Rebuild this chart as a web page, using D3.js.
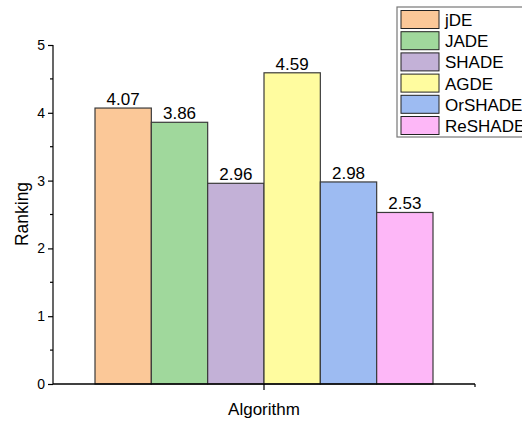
<!DOCTYPE html>
<html><head><meta charset="utf-8">
<script src="https://cdn.jsdelivr.net/npm/d3@7"></script>
<style>body{margin:0;background:#fff}svg{display:block}text{font-family:Arial,"Liberation Sans",sans-serif}</style>
</head><body>
<script>
const categories = ["jDE","JADE","SHADE","AGDE","OrSHADE","ReSHADE"];
const values = [4.07,3.86,2.96,4.59,2.98,2.53];
const colors = ["#FBC898","#A0D89C","#C3B1D7","#FFFC9F","#9DBBF2","#FDB7F7"];
const yTicks = [0,1,2,3,4,5];

const W=522,H=421;
const svg=d3.select("body").append("svg").attr("width",W).attr("height",H);
const x0=53,x1=475,y0=384,y1=45;
const y=d3.scaleLinear().domain([0,5]).range([y0,y1]);
const x=d3.scaleBand().domain(categories).range([95,433]).padding(0);

// bars
svg.append("g").selectAll("rect").data(values).join("rect")
 .attr("x",(d,i)=>x(categories[i])).attr("y",d=>y(d))
 .attr("width",x.bandwidth()).attr("height",d=>y0-y(d))
 .attr("fill",(d,i)=>colors[i]).attr("stroke","#3a3a3a").attr("stroke-width",1.2);

svg.append("g").selectAll("text").data(values).join("text")
 .attr("x",(d,i)=>x(categories[i])+x.bandwidth()/2).attr("y",d=>y(d)-3)
 .attr("text-anchor","middle").attr("font-size",17).attr("fill","#000")
 .text(d=>d.toFixed(2));

// y axis
const yAxis=d3.axisLeft(y).tickValues(yTicks).tickSize(5).tickFormat(d3.format("d"));
const gy=svg.append("g").attr("transform",`translate(${x0},0)`).call(yAxis);
gy.select(".domain").attr("d",`M0,${y1}V${y0}`).attr("stroke","#000").attr("stroke-width",1.2);
gy.selectAll(".tick line").attr("stroke","#000").attr("stroke-width",1.2);
gy.selectAll(".tick text").attr("font-size",14).attr("fill","#000").attr("x",-8).attr("font-family","Arial");
const minor=d3.range(0.5,5,1);
gy.selectAll(".minor").data(minor).join("line").attr("class","minor")
 .attr("x1",-3).attr("x2",0).attr("y1",d=>y(d)).attr("y2",d=>y(d)).attr("stroke","#000").attr("stroke-width",1.2);

// x axis
svg.append("line").attr("x1",x0).attr("x2",x1).attr("y1",y0).attr("y2",y0).attr("stroke","#000").attr("stroke-width",1.4);
svg.append("line").attr("x1",(x0+x1)/2).attr("x2",(x0+x1)/2).attr("y1",y0).attr("y2",y0+6).attr("stroke","#000").attr("stroke-width",1.2);
svg.append("line").attr("x1",x1).attr("x2",x1).attr("y1",y0).attr("y2",y0+3).attr("stroke","#000").attr("stroke-width",1.2);

svg.append("text").attr("x",(x0+x1)/2).attr("y",415).attr("text-anchor","middle").attr("font-size",17).text("Algorithm");
svg.append("text").attr("transform","translate(28,214) rotate(-90)").attr("text-anchor","middle").attr("font-size",17.5).text("Ranking");

// legend
const lg=svg.append("g");
lg.append("rect").attr("x",397).attr("y",7).attr("width",140).attr("height",130).attr("fill","#fff").attr("stroke","#777").attr("stroke-width",1.2);
const items=lg.selectAll("g.it").data(categories).join("g").attr("class","it")
 .attr("transform",(d,i)=>`translate(401,${10.5+i*21.2})`);
items.append("rect").attr("width",38).attr("height",18).attr("fill",(d,i)=>colors[i]).attr("stroke","#222").attr("stroke-width",1);
items.append("text").attr("x",44).attr("y",15.5).attr("font-size",17).text(d=>d);
</script>
</body></html>
